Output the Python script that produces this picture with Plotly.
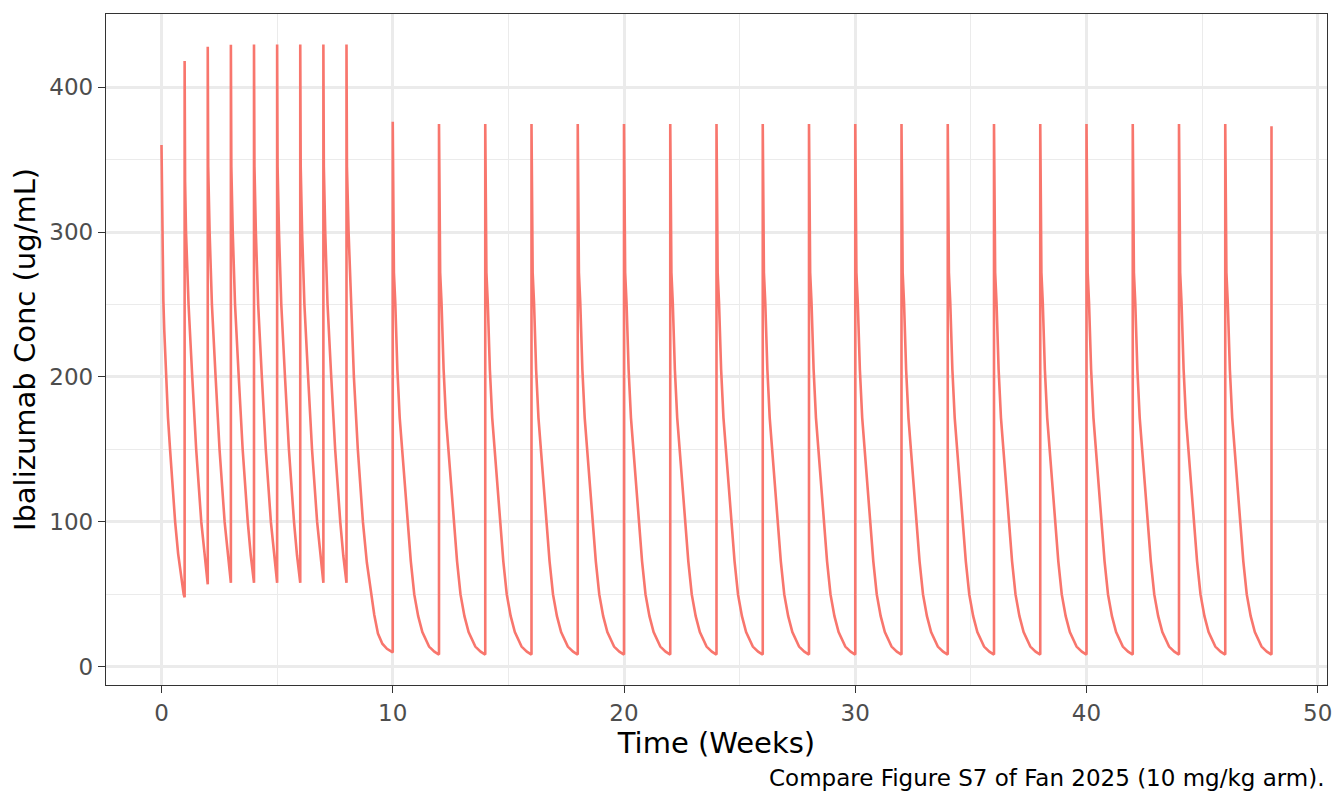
import plotly.graph_objects as go

# dosing: weekly loading (weeks 0-8) then every 2 weeks (10-48)
weekly_doses = [0, 1, 2, 3, 4, 5, 6, 7, 8]
weekly_peaks = [360, 418, 427.8, 429.2, 429.4, 429.4, 429.4, 429.4, 429.4]
q2w_doses = [10, 12, 14, 16, 18, 20, 22, 24, 26, 28, 30, 32, 34, 36, 38, 40, 42, 44, 46, 48]
q2w_peaks = [376, 374.5, 374.5, 374.5, 374.5, 374.5, 374.5, 374.5, 374.5, 374.5,
             374.5, 374.5, 374.5, 374.5, 374.5, 374.5, 374.5, 374.5, 374.5, 373]

# decay after the first dose (weeks after dose, ug/mL)
dose0_t = [0.02, 0.05, 0.08, 0.12, 0.2, 0.28, 0.37, 0.47, 0.59, 0.72, 0.85, 0.96, 1.0]
dose0_c = [330, 301, 253, 232, 200, 172, 150, 124, 100, 78, 62, 50, 48]

# decay after the week 1 dose
dose1_t = [0.02, 0.06, 0.17, 0.33, 0.5, 0.72, 0.86, 1.0]
dose1_c = [335, 300, 250, 200, 150, 100, 76, 57]

# decay after weekly doses 2-7
weekly_t = [0.02, 0.08, 0.18, 0.34, 0.51, 0.73, 0.86, 1.0]
weekly_c = [345, 300, 250, 200, 150, 100, 77, 58]

# decay after the week 8 dose (2 week gap)
dose8_t = [0.02, 0.09, 0.2, 0.32, 0.49, 0.71, 0.88, 1.07, 1.2, 1.36, 1.55, 1.75, 2.0]
dose8_c = [345, 300, 250, 200, 150, 100, 72, 50, 36, 23, 16, 12.5, 10]

# decay after every q2w dose
q2w_t = [0.02, 0.05, 0.11, 0.2, 0.3, 0.4, 0.5, 0.64, 0.78, 0.93, 1.1, 1.28, 1.57, 1.8, 2.0]
q2w_c = [292, 272, 251, 205, 172, 150, 128, 100, 73, 50, 35, 24, 14, 10.5, 8.5]

time, conc = [], []
for i, (d, p) in enumerate(zip(weekly_doses, weekly_peaks)):
    if i == 0:
        prof_t, prof_c = dose0_t, dose0_c
    elif i == 1:
        prof_t, prof_c = dose1_t, dose1_c
    elif d == 8:
        prof_t, prof_c = dose8_t, dose8_c
    else:
        prof_t, prof_c = weekly_t, weekly_c
    time.append(d)
    conc.append(p)
    time += [d + t for t in prof_t]
    conc += prof_c

for d, p in zip(q2w_doses, q2w_peaks):
    time.append(d)
    conc.append(p)
    if d != q2w_doses[-1]:
        time += [d + t for t in q2w_t]
        conc += q2w_c

fig = go.Figure()
fig.add_trace(go.Scatter(x=time, y=conc, mode='lines',
                         line=dict(color='#F8766D', width=2.6), showlegend=False))

axis_style = dict(showgrid=True, gridcolor='#EBEBEB', gridwidth=2.6, zeroline=False,
                  showline=True, mirror=True, linecolor='#333333', linewidth=1.4,
                  ticks='outside', ticklen=7, tickwidth=1.4, tickcolor='#333333',
                  tickfont=dict(family='DejaVu Sans', size=23, color='#4D4D4D'))

fig.update_xaxes(range=[-2.4, 50.4], tick0=0, dtick=10,
                 minor=dict(dtick=5, tick0=0, showgrid=True, gridcolor='#EBEBEB', gridwidth=1.3),
                 title=dict(text='Time (Weeks)', font=dict(family='DejaVu Sans', size=29, color='black'),
                            standoff=3),
                 **axis_style)
fig.update_yaxes(range=[-12.5, 450.4], tick0=0, dtick=100,
                 minor=dict(dtick=50, tick0=0, showgrid=True, gridcolor='#EBEBEB', gridwidth=1.3),
                 title=dict(text='Ibalizumab Conc (ug/mL)', font=dict(family='DejaVu Sans', size=29, color='black'),
                            standoff=5),
                 **axis_style)

fig.add_annotation(text='Compare Figure S7 of Fan 2025 (10 mg/kg arm).',
                   xref='paper', yref='paper', x=1, y=0, xanchor='right', yanchor='middle',
                   yshift=-93, showarrow=False,
                   font=dict(family='DejaVu Sans', size=23, color='black'))

fig.update_layout(width=1344, height=806, margin=dict(l=106, r=14, t=14, b=121),
                  paper_bgcolor='white', plot_bgcolor='white',
                  font=dict(family='DejaVu Sans'))

fig.write_html("out.html", config={'displayModeBar': False},
               post_script="document.body.style.margin='0';")
